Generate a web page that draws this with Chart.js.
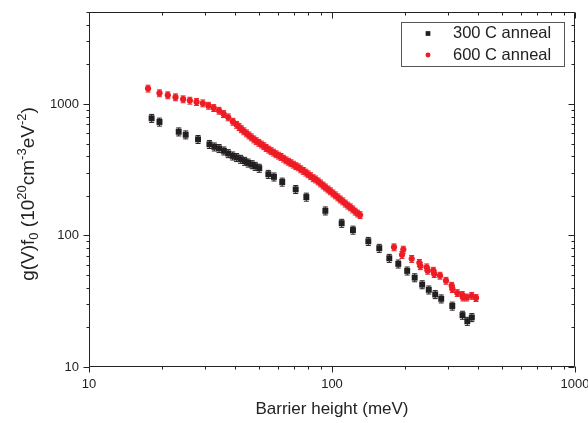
<!DOCTYPE html>
<html>
<head>
<meta charset="utf-8">
<script src="https://cdn.jsdelivr.net/npm/chart.js@4.4.1/dist/chart.umd.min.js"></script>
<style>
  html, body { margin: 0; padding: 0; background: #fff; }
</style>
</head>
<body>
<canvas id="chart" width="588" height="423"></canvas>
<script>
// barrier height (meV) and g(V)f0
const x300 = [18.1, 19.5, 23.4, 25.0, 28.1, 31.3, 32.8, 34.3, 35.9, 37.4, 39.0, 40.5, 42.1, 43.7, 45.2, 46.9, 48.3, 50.2,
    54.7, 57.7, 62.4, 70.9, 78.4, 93.9, 109.6, 122.0, 141.1, 156.5, 172.1, 187.4, 203.9, 218.9, 235.0, 250.2, 265.9,
    281.5, 312.6, 344.4, 360.5, 376.2];
const y300 = [778, 729, 614, 583, 538, 493, 472, 459, 440, 420, 403, 392, 380, 367, 356, 346, 336, 325,
    292, 279, 255, 224, 196, 154, 124, 110, 90.3, 80.0, 67.1, 60.8, 53.8, 47.8, 42.3, 38.6, 35.6,
    33.0, 29.1, 24.8, 22.3, 23.8];

const x600 = [17.5, 19.5, 21.1, 22.7, 24.4, 26.0, 27.7, 29.4, 31.0, 32.6, 34.3, 35.8, 37.4, 39.1,
    40.5, 41.5, 42.4, 43.4, 44.5, 45.5, 46.6, 47.7, 48.8, 50.0, 51.2, 52.4, 53.6, 54.9, 56.2, 57.5, 58.9, 60.3,
    61.7, 63.2, 64.7, 66.2, 67.8, 69.4, 71.0, 72.7, 74.4, 76.2, 78.0, 79.8, 81.7, 83.7, 85.6, 87.7, 89.7, 91.9,
    94.0, 96.3, 98.5, 100.9, 103.3, 105.7, 108.2, 110.8, 113.4, 116.1, 118.9, 121.7, 124.6, 127.5, 130.5,
    180.0, 194.1, 196.6, 212.8, 228.8, 231.0, 245.3, 247.5, 261.2, 263.5, 278.3, 294.5, 310.8, 313.0, 327.7,
    343.7, 346.0, 358.4, 375.8, 391.4];
const y600 = [1309, 1207, 1165, 1125, 1086, 1060, 1036, 1012, 970, 932, 889, 839, 792, 733,
    695, 668, 643, 620, 598, 577, 558, 538, 522, 507, 492, 478, 463, 450, 438, 427, 415, 405,
    396, 384, 373, 364, 355, 346, 337, 330, 319, 310, 301, 292, 283, 273, 267, 258, 249, 240,
    232, 224, 217, 209, 202, 195, 188, 182, 175, 169, 164, 158, 152, 147, 143,
    81.4, 71.2, 78.1, 66.4, 61.9, 58.5, 57.3, 54.0, 54.0, 51.0, 49.5, 45.3, 41.5, 39.2, 36.5,
    35.3, 33.8, 33.8, 34.8, 33.5];

// relative half-size of the error bars
const err300 = 0.07;
const err600 = 0.06;

const xTickLabels = [10, 100, 1000];
const yTickLabels = [10, 100, 1000];
const xRange = [10, 1000];
const yRange = [10, 5000];

const seriesNames = ['300 C anneal', '600 C anneal'];

const black = '#231f20';
const red = '#ed1c24';
const axisColor = '#222';
const fontFamily = '"Liberation Sans", Arial, Helvetica, sans-serif';

const errorBars = {
    id: 'errorBars',
    beforeDatasetsDraw(chart) {
        const ctx = chart.ctx;
        const ys = chart.scales.y;
        chart.data.datasets.forEach((ds, i) => {
            const meta = chart.getDatasetMeta(i);
            ctx.save();
            ctx.strokeStyle = ds.errColor;
            ctx.lineWidth = 1;
            ctx.beginPath();
            meta.data.forEach((pt, j) => {
                const v = ds.data[j].y;
                const top = ys.getPixelForValue(v * (1 + ds.errFrac));
                const bot = ys.getPixelForValue(v * (1 - ds.errFrac));
                ctx.moveTo(pt.x, top);
                ctx.lineTo(pt.x, bot);
                ctx.moveTo(pt.x - 2.5, top);
                ctx.lineTo(pt.x + 2.5, top);
                ctx.moveTo(pt.x - 2.5, bot);
                ctx.lineTo(pt.x + 2.5, bot);
            });
            ctx.stroke();
            ctx.restore();
        });
    }
};

function decadeTicks(min, max) {
    const out = [];
    for (let d = min; d <= max; d *= 10) {
        for (let m = 1; m <= 9; m++) {
            const v = d * m;
            if (v > max + 1e-9) break;
            out.push({ v: v, major: m === 1 });
        }
    }
    return out;
}

const frameTicks = {
    id: 'frameTicks',
    afterDraw(chart) {
        const { ctx, chartArea: a, scales: { x, y } } = chart;
        const L = Math.round(a.left) + 0.5;
        const R = Math.round(a.right) - 0.5;
        const T = Math.round(a.top) + 0.5;
        const B = Math.round(a.bottom) - 0.5;
        ctx.save();
        ctx.strokeStyle = axisColor;
        ctx.lineWidth = 1;
        ctx.beginPath();
        ctx.rect(L, T, R - L, B - T);
        decadeTicks(xRange[0], xRange[1]).forEach(t => {
            const px = Math.round(x.getPixelForValue(t.v)) + 0.5;
            const len = t.major ? 6 : 3;
            ctx.moveTo(px, B); ctx.lineTo(px, B + len);
            ctx.moveTo(px, T); ctx.lineTo(px, T + len);
        });
        decadeTicks(yRange[0], yRange[1]).forEach(t => {
            const py = Math.round(y.getPixelForValue(t.v)) + 0.5;
            const len = t.major ? 6 : 3;
            ctx.moveTo(L - len, py); ctx.lineTo(L, py);
            ctx.moveTo(R, py); ctx.lineTo(R - len, py);
        });
        ctx.stroke();

        // y title with super/subscripts
        const parts = [['g(V)f', 0], ['0', 1], [' (10', 0], ['20', -1], ['cm', 0], ['-3', -1],
            ['eV', 0], ['-2', -1], [')', 0]];
        const big = '19px ' + fontFamily;
        const small = '13px ' + fontFamily;
        let w = 0;
        parts.forEach(p => { ctx.font = p[1] ? small : big; w += ctx.measureText(p[0]).width; });
        ctx.translate(34, 194);
        ctx.rotate(-Math.PI / 2);
        ctx.fillStyle = axisColor;
        ctx.textBaseline = 'alphabetic';
        let cx = -w / 2;
        parts.forEach(p => {
            ctx.font = p[1] ? small : big;
            const dy = p[1] === -1 ? -8.5 : (p[1] === 1 ? 4 : 0);
            ctx.fillText(p[0], cx, dy);
            cx += ctx.measureText(p[0]).width;
        });
        ctx.restore();
    }
};

const boxLegend = {
    id: 'boxLegend',
    afterDraw(chart) {
        const ctx = chart.ctx;
        ctx.save();
        ctx.strokeStyle = '#555';
        ctx.lineWidth = 1;
        ctx.strokeRect(401.5, 22.5, 163, 44);
        chart.data.datasets.forEach((ds, i) => {
            const my = 33.5 + i * 21.5;
            ctx.fillStyle = ds.backgroundColor;
            Chart.helpers.drawPoint(ctx, {
                pointStyle: ds.pointStyle, radius: ds.pointRadius * 0.8, rotation: 0, borderWidth: 0
            }, 428, my);
            ctx.fillStyle = axisColor;
            ctx.font = '16.5px ' + fontFamily;
            ctx.textBaseline = 'middle';
            ctx.textAlign = 'left';
            ctx.fillText(ds.label, 453, my);
        });
        ctx.restore();
    }
};

function noEdgePadding(scale) {
    scale.paddingTop = 0;
    scale.paddingBottom = 0;
    scale.paddingLeft = 0;
    scale.paddingRight = 0;
}

const ctx = document.getElementById('chart').getContext('2d');
new Chart(ctx, {
    type: 'scatter',
    data: {
        datasets: [
            {
                label: seriesNames[0],
                data: x300.map((v, i) => ({ x: v, y: y300[i] })),
                pointStyle: 'rect',
                pointRadius: 4.2,
                backgroundColor: black,
                borderWidth: 0,
                errFrac: err300,
                errColor: black
            },
            {
                label: seriesNames[1],
                data: x600.map((v, i) => ({ x: v, y: y600[i] })),
                pointStyle: 'circle',
                pointRadius: 3.1,
                backgroundColor: red,
                borderWidth: 0,
                errFrac: err600,
                errColor: red
            }
        ]
    },
    options: {
        responsive: false,
        animation: false,
        layout: { padding: { top: 12, right: 13, left: 0, bottom: 0 } },
        plugins: {
            legend: { display: false },
            tooltip: { enabled: false }
        },
        scales: {
            x: {
                type: 'logarithmic',
                min: xRange[0],
                max: xRange[1],
                afterFit: scale => { scale.height = 56; noEdgePadding(scale); },
                afterBuildTicks: scale => { scale.ticks = xTickLabels.map(v => ({ value: v })); },
                grid: { display: false, drawTicks: false },
                border: { display: false },
                ticks: {
                    color: axisColor,
                    padding: 10,
                    maxRotation: 0,
                    font: { family: fontFamily, size: 13 },
                    callback: v => String(v)
                },
                title: {
                    display: true,
                    text: 'Barrier height (meV)',
                    color: axisColor,
                    font: { family: fontFamily, size: 17 },
                    padding: { top: 0, bottom: 3 }
                }
            },
            y: {
                type: 'logarithmic',
                min: yRange[0],
                max: yRange[1],
                afterFit: scale => { scale.width = 89; noEdgePadding(scale); },
                afterBuildTicks: scale => { scale.ticks = yTickLabels.map(v => ({ value: v })); },
                grid: { display: false, drawTicks: false },
                border: { display: false },
                ticks: {
                    color: axisColor,
                    padding: 10,
                    font: { family: fontFamily, size: 13 },
                    callback: v => String(v)
                }
            }
        }
    },
    plugins: [errorBars, frameTicks, boxLegend]
});
</script>
</body>
</html>
